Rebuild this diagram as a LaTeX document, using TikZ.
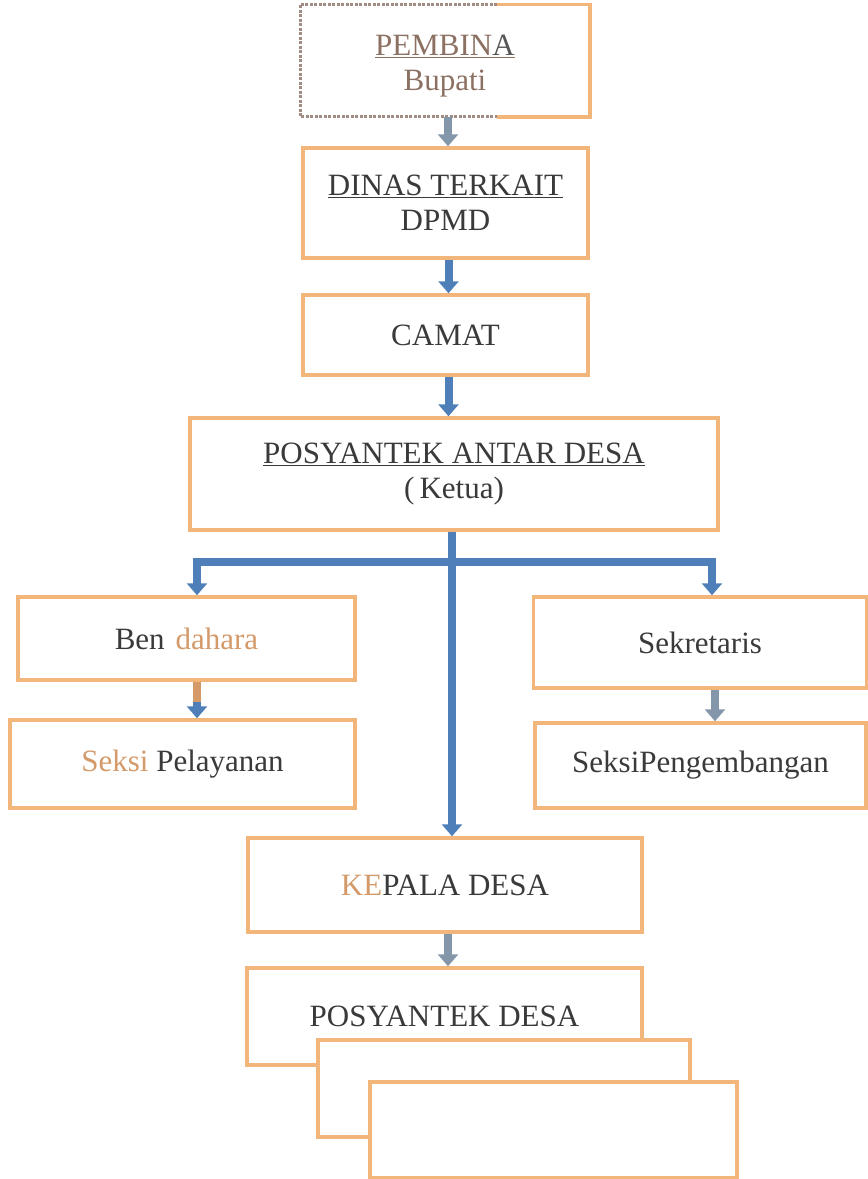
\documentclass[tikz,border=0pt]{standalone}
\usepackage{fontspec}
\setmainfont{Liberation Serif}
\usetikzlibrary{arrows.meta,calc}
\definecolor{orangeb}{HTML}{F2B57A}
\definecolor{bluea}{HTML}{4E7FB8}
\definecolor{graya}{HTML}{8496AA}
\definecolor{darkt}{HTML}{3A3A3A}
\definecolor{oranget}{HTML}{D49A6A}
\definecolor{brownt}{HTML}{8C7062}
\definecolor{dashg}{HTML}{A08C80}
\tikzset{
  box/.style={draw=orangeb, line width=3.5pt, fill=white, inner sep=0pt, align=center,
    text=darkt, font=\fontsize{31}{35}\selectfont},
  arr/.style={draw=bluea, line width=8pt, -{Triangle[width=20pt,length=12pt]}},
  garr/.style={arr, draw=graya},
}
\begin{document}
\begin{tikzpicture}[x=1pt,y=-1pt]
\useasboundingbox (0,0) rectangle (868,1179);
% top chain
\node[box, draw=none, minimum width=286pt, minimum height=109pt] (pembina) at (445,60.5) {};
\node[box, fill=none, draw=none, text=brownt] (pembinatxt) at (445,66)
  {\underline{PEMBIN\textcolor{darkt!85}{A}}\\Bupati};
\draw[orangeb, line width=3.5pt] ($(pembina.north west)!0.68!(pembina.north east)$) -- (pembina.north east) -- (pembina.south east) -- ($(pembina.south west)!0.68!(pembina.south east)$);
\draw[dashg, line width=3pt, dash pattern=on 3pt off 1.5pt] ($(pembina.north west)!0.68!(pembina.north east)$) -- (pembina.north west) -- (pembina.south west) -- ($(pembina.south west)!0.68!(pembina.south east)$);
\node[box, minimum width=285pt, minimum height=110pt] (dinas) at (445.5,203) {\underline{DINAS TERKAIT}\\DPMD};
\node[box, minimum width=285pt, minimum height=80pt] (camat) at (445.5,335) {CAMAT};
\node[box, minimum width=528pt, minimum height=112pt] (ketua) at (454,474) {\underline{POSYANTEK ANTAR DESA}\\(\,Ketua)};
% branches
\node[box, minimum width=337pt, minimum height=83pt] (bend) at (186.5,638.5) {Ben\hspace{0.35em}\textcolor{oranget}{dahara}};
\node[box, minimum width=345pt, minimum height=88pt] (pelay) at (182.5,764) {\textcolor{oranget}{Seksi} Pelayanan};
\node[box, minimum width=333pt, minimum height=91pt] (sek) at (700,642.5) {Sekretaris};
\node[box, minimum width=331pt, minimum height=85pt] (peng) at (700.5,765.5) {SeksiPengembangan};
% village
\node[box, minimum width=394pt, minimum height=94pt] (kepala) at (445,885) {\textcolor{oranget}{KE}PALA DESA};
\node[box, minimum width=395pt, minimum height=97pt] (posdesa) at (444.5,1016.5) {POSYANTEK DESA};
\node[box, minimum width=372pt, minimum height=97pt] (blank2) at (504,1088.5) {};
\node[box, minimum width=367pt, minimum height=96pt] (blank3) at (553.5,1130) {};
% connectors
\coordinate (hl) at (197,562);
\coordinate (hr) at (712,562);
\draw[garr] ([xshift=3pt]pembina.south) -- ([xshift=3pt]pembina.south |- dinas.north);
\draw[arr] ([xshift=3pt]dinas.south) -- ([xshift=3pt]dinas.south |- camat.north);
\draw[arr] ([xshift=3pt]camat.south) -- ([xshift=3pt]camat.south |- ketua.north);
\draw[arr] ([xshift=-2pt]ketua.south) -- ([xshift=-2pt]ketua.south |- kepala.north);
\draw[arr, line join=miter, {Triangle[width=20pt,length=12pt]}-{Triangle[width=20pt,length=12pt]}]
  (hl |- bend.north) -- (hl) -- (hr) -- (hr |- sek.north);
\draw[arr] ([xshift=10.5pt]bend.south) -- ([xshift=10.5pt]bend.south |- pelay.north);
\draw[oranget, line width=8pt] ([xshift=10.5pt]bend.south) -- ++(0,20);
\draw[garr] ([xshift=15pt]sek.south) -- ([xshift=15pt]sek.south |- peng.north);
\draw[garr] ([xshift=3pt]kepala.south) -- ([xshift=3pt]kepala.south |- posdesa.north);
\end{tikzpicture}
\end{document}
